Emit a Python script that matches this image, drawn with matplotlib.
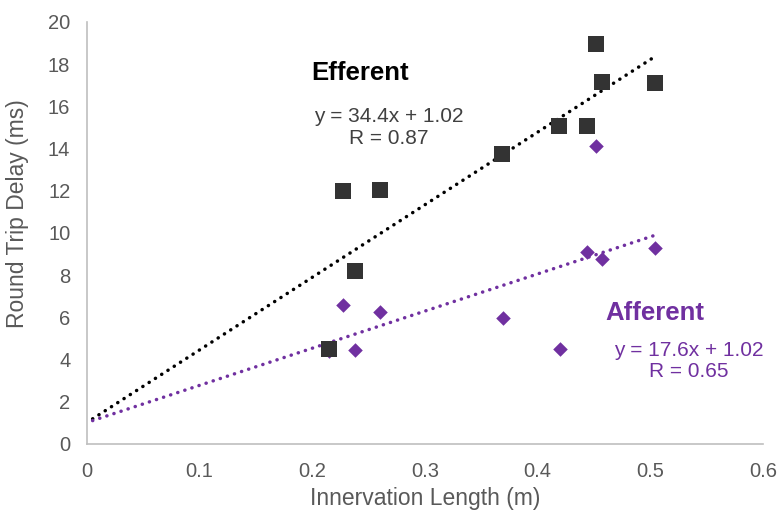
import numpy as np
import matplotlib.pyplot as plt

plt.rcParams['font.family'] = ['Liberation Sans', 'DejaVu Sans']

# Efferent measurements (squares)
eff_x = [0.215, 0.227, 0.260, 0.238, 0.368, 0.419, 0.444, 0.452, 0.457, 0.504]
eff_y = [4.5, 12.0, 12.05, 8.2, 13.75, 15.05, 15.05, 18.95, 17.15, 17.1]

# Afferent measurements (diamonds)
aff_x = [0.215, 0.227, 0.260, 0.238, 0.369, 0.420, 0.444, 0.457, 0.504, 0.452]
aff_y = [4.4, 6.6, 6.25, 4.45, 5.95, 4.5, 9.1, 8.75, 9.3, 14.1]

# trend line coefficients (slope, intercept) and extent
eff_fit = (34.4, 1.02)
aff_fit = (17.6, 1.02)
fit_range = [0.005, 0.505]

x_ticks = [0, 0.1, 0.2, 0.3, 0.4, 0.5, 0.6]
y_ticks = [0, 2, 4, 6, 8, 10, 12, 14, 16, 18, 20]

dark = '#333333'
purple = '#7030A0'
grey = '#595959'

fig = plt.figure(figsize=(7.78, 5.15), dpi=100)
ax = fig.add_axes([0.1118, 0.1379, 0.8689, 0.8194])

# dotted trend lines
fx = np.array(fit_range)
dots = (0, (0.05, 2.1))
ax.plot(fx, eff_fit[0] * fx + eff_fit[1], color='black', lw=2.5,
        linestyle=dots, dash_capstyle='round', zorder=2)
ax.plot(fx, aff_fit[0] * fx + aff_fit[1], color=purple, lw=2.5,
        linestyle=dots, dash_capstyle='round', zorder=2)

# points
ax.scatter(aff_x, aff_y, marker='D', s=55, color=purple, linewidths=0, zorder=3)
ax.scatter(eff_x, eff_y, marker='s', s=135, color=dark, linewidths=0, zorder=4)

ax.set_xlim(0, 0.6)
ax.set_ylim(0, 20)
ax.set_xticks(x_ticks)
ax.set_xticklabels(['0', '0.1', '0.2', '0.3', '0.4', '0.5', '0.6'])
ax.set_yticks(y_ticks)
ax.tick_params(axis='both', length=0, labelsize=14.5, labelcolor=grey)
ax.tick_params(axis='y', pad=12)
ax.tick_params(axis='x', pad=13)

for side in ['top', 'right']:
    ax.spines[side].set_visible(False)
for side in ['left', 'bottom']:
    ax.spines[side].set_color('#BFBFBF')
    ax.spines[side].set_linewidth(1.2)

ax.set_xlabel('Innervation Length (m)', fontsize=16.5, color=grey, labelpad=4)
ax.set_ylabel('Round Trip Delay (ms)', fontsize=16.5, color=grey)
ax.yaxis.set_label_coords(-0.086, 0.547)

# annotations
ax.text(0.242, 17.6, 'Efferent', fontsize=18.5, fontweight='bold', color='black',
        ha='center', va='center')
ax.text(0.268, 15.0, 'y = 34.4x + 1.02\nR = 0.87', fontsize=15, color='#404040',
        ha='center', va='center', linespacing=1.15)
ax.text(0.504, 6.2, 'Afferent', fontsize=18.5, fontweight='bold', color=purple,
        ha='center', va='center')
ax.text(0.534, 3.95, 'y = 17.6x + 1.02\nR = 0.65', fontsize=15, color=purple,
        ha='center', va='center', linespacing=1.15)

fig.savefig('out.png', dpi=100)
